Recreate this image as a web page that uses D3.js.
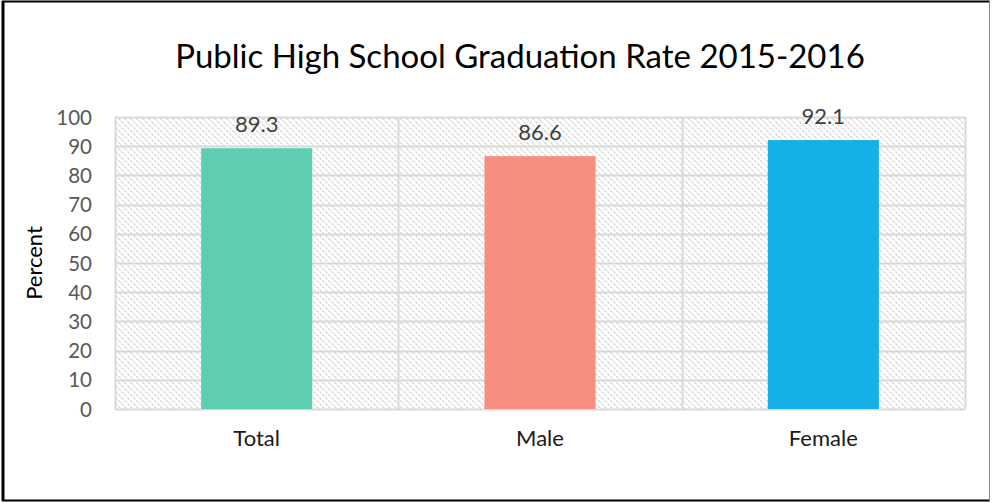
<!DOCTYPE html>
<html><head><meta charset="utf-8">
<script src="https://cdn.jsdelivr.net/npm/d3@7"></script>
<style>
html,body{margin:0;padding:0;background:#fff;}
svg{display:block;}
</style></head>
<body>
<script>
const categories = ["Total", "Male", "Female"];
const values = [89.3, 86.6, 92.1];
const barColors = ["#5DCEB1", "#F68F7F", "#13B1E6"];
const yTicks = [0, 10, 20, 30, 40, 50, 60, 70, 80, 90, 100];
const title = "Public High School Graduation Rate 2015-2016";
const yTitle = "Percent";

const W = 992, H = 503;
const svg = d3.select("body").append("svg").attr("width", W).attr("height", H);
const FONT = "Lato, 'Open Sans', sans-serif";

// outer frame
svg.append("rect").attr("x", 0).attr("y", 0).attr("width", W).attr("height", H).attr("fill", "#fff");
svg.append("line").attr("x1", 3).attr("x2", 3).attr("y1", 1).attr("y2", 501).attr("stroke", "#000").attr("stroke-width", 3);
svg.append("line").attr("x1", 2).attr("x2", 990).attr("y1", 1.5).attr("y2", 1.5).attr("stroke", "#000").attr("stroke-width", 2);
svg.append("line").attr("x1", 2).attr("x2", 990).attr("y1", 500.5).attr("y2", 500.5).attr("stroke", "#000").attr("stroke-width", 2);
svg.append("line").attr("x1", 989.5).attr("x2", 989.5).attr("y1", 1).attr("y2", 501).attr("stroke", "#888").attr("stroke-width", 1);

const defs = svg.append("defs");
const pat = defs.append("pattern").attr("id", "hatch").attr("patternUnits", "userSpaceOnUse")
  .attr("width", 6).attr("height", 6);
pat.append("rect").attr("width", 6).attr("height", 6).attr("fill", "#fff");
pat.append("path").attr("d", "M-1,-1 L7,7 M-4,2 L2,8 M4,-2 L8,2")
  .attr("stroke", "#d8d8d8").attr("stroke-width", 1.4).attr("stroke-dasharray", "2.5,1.2");

const pLeft = 115, pRight = 965, pTop = 117, pBottom = 409;
const x = d3.scaleBand().domain(categories).range([pLeft, pRight]).paddingInner(0.608).paddingOuter(0.304);
const y = d3.scaleLinear().domain([0, 100]).range([pBottom, pTop]);

// plot background
svg.append("rect").attr("x", pLeft).attr("y", pTop).attr("width", pRight - pLeft).attr("height", pBottom - pTop)
  .attr("fill", "url(#hatch)");

// horizontal gridlines
svg.append("g").selectAll("line").data(yTicks).join("line")
  .attr("x1", pLeft).attr("x2", pRight)
  .attr("y1", d => Math.round(y(d)) + 0.5).attr("y2", d => Math.round(y(d)) + 0.5)
  .attr("stroke", "#d9d9d9").attr("stroke-width", 2);

// vertical category gridlines
const bounds = d3.range(categories.length + 1).map(i => pLeft + i * (pRight - pLeft) / categories.length);
svg.append("g").selectAll("line").data(bounds).join("line")
  .attr("x1", d => Math.round(d) + 0.5).attr("x2", d => Math.round(d) + 0.5)
  .attr("y1", pTop).attr("y2", pBottom)
  .attr("stroke", "#d9d9d9").attr("stroke-width", 2);

// bars
svg.append("g").selectAll("rect").data(values).join("rect")
  .attr("x", (d, i) => x(categories[i])).attr("width", x.bandwidth())
  .attr("y", d => y(d)).attr("height", d => y(0) - y(d))
  .attr("fill", (d, i) => barColors[i]);

// data labels
svg.append("g").selectAll("text").data(values).join("text")
  .attr("x", (d, i) => x(categories[i]) + x.bandwidth() / 2)
  .attr("y", d => y(d) - 16)
  .attr("text-anchor", "middle")
  .attr("font-family", FONT).attr("font-size", 22)
  .attr("fill", "#404040")
  .text(d => d.toFixed(1));

// y axis
const yAxis = d3.axisLeft(y).tickValues(yTicks).tickSize(0).tickPadding(0);
const gy = svg.append("g").attr("transform", `translate(${pLeft - 23},0)`).call(yAxis);
gy.select(".domain").remove();
gy.selectAll("text").attr("font-family", FONT).attr("font-size", 20.5)
  .attr("fill", "#595959").attr("dy", "0.35em");

// x axis
const xAxis = d3.axisBottom(x).tickSize(0).tickPadding(0);
const gx = svg.append("g").attr("transform", `translate(0,${pBottom + 21})`).call(xAxis);
gx.select(".domain").remove();
gx.selectAll("text").attr("font-family", FONT).attr("font-size", 22)
  .attr("fill", "#1a1a1a").attr("dy", "0.71em");

// title
svg.append("text").attr("x", 520).attr("y", 68).attr("text-anchor", "middle")
  .attr("font-family", FONT).attr("font-size", 33)
  .attr("fill", "#000").text(title);

// y title
svg.append("text").attr("transform", `translate(42,${(pTop + pBottom) / 2}) rotate(-90)`)
  .attr("text-anchor", "middle")
  .attr("font-family", FONT).attr("font-size", 22)
  .attr("fill", "#000").text(yTitle);
</script>
</body></html>
